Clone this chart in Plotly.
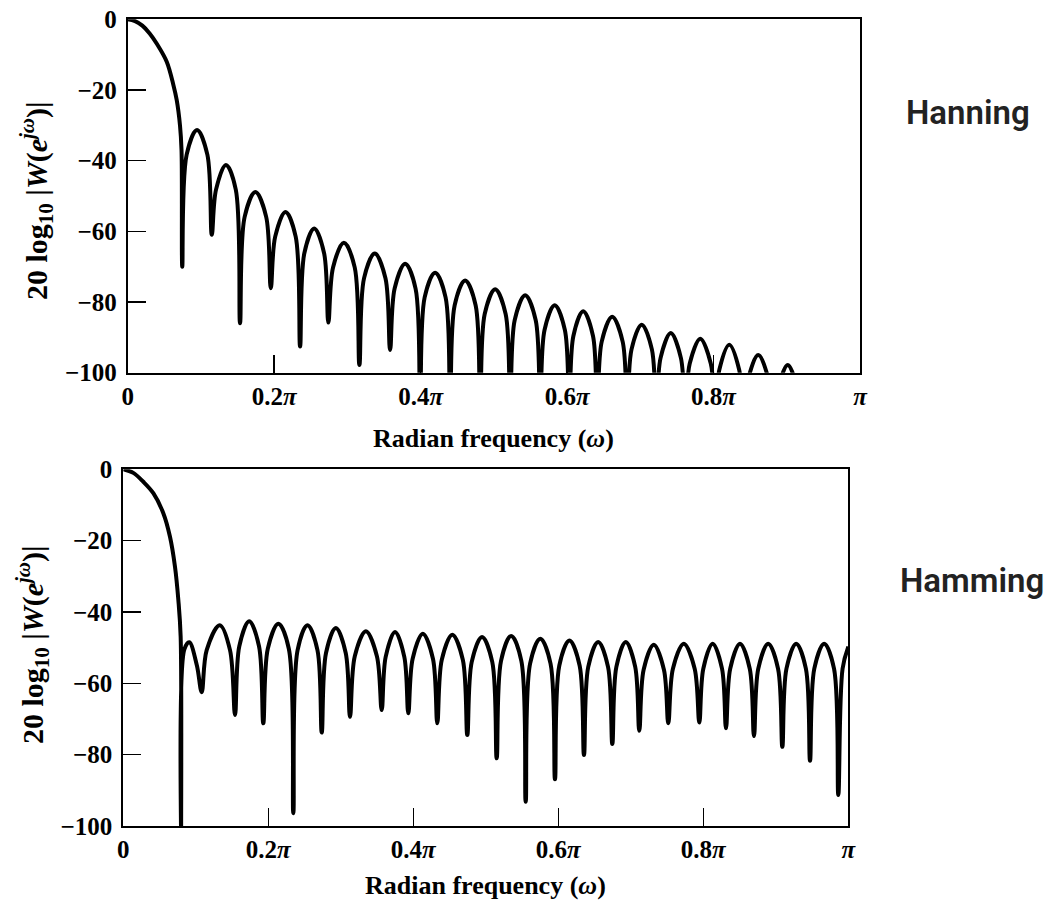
import plotly.graph_objects as go

# ---------------- data (x in units of pi, y in dB) -------------
hann_x = [
    0.0, 0.01, 0.02, 0.03, 0.04, 0.0533, 0.0623, 0.0669, 0.0714, 0.0735,
    0.0745, 0.0805, 0.0947, 0.1088,
    0.1148, 0.1206, 0.1341, 0.1476,
    0.1534, 0.1597, 0.1744, 0.1891,
    0.1954, 0.2014, 0.2154, 0.2294,
    0.2354, 0.2412, 0.2547, 0.2682,
    0.2740, 0.2804, 0.2952, 0.3100,
    0.3164, 0.3227, 0.3374, 0.3520,
    0.3583, 0.3645, 0.3788, 0.3931,
    0.3993, 0.4055, 0.4198, 0.4341,
    0.4403, 0.4465, 0.4608, 0.4751,
    0.4813, 0.4875, 0.5018, 0.5161,
    0.5223, 0.5285, 0.5428, 0.5571,
    0.5633, 0.5692, 0.5831, 0.5970,
    0.6029, 0.6086, 0.6220, 0.6354,
    0.6411, 0.6473, 0.6616, 0.6759,
    0.6821, 0.6880, 0.7019, 0.7158,
    0.7217, 0.7277, 0.7416, 0.7554,
    0.7614, 0.7675, 0.7819, 0.7962,
    0.8023, 0.8080, 0.8215, 0.8349,
    0.8406, 0.8468, 0.8611, 0.8754,
    0.8816, 0.8875, 0.9013, 0.9151,
    0.9210,
]
hann_y = [
    0.0, -0.5, -1.8, -4.0, -7.0, -12.0, -18.5, -22.8, -30.0, -37.0,
    -70.0, -38.3, -31.3, -38.3,
    -61.0, -48.2, -41.2, -48.2,
    -86.0, -55.9, -48.9, -55.9,
    -76.1, -61.5, -54.5, -61.5,
    -92.6, -66.2, -59.2, -66.2,
    -85.8, -70.2, -63.2, -70.2,
    -97.8, -73.3, -66.3, -73.3,
    -93.6, -76.2, -69.2, -76.2,
    -110, -78.7, -71.7, -78.7,
    -110, -80.9, -73.9, -80.9,
    -110, -83.4, -76.4, -83.4,
    -110, -85.1, -78.1, -85.1,
    -110, -87.9, -80.9, -87.9,
    -110, -89.6, -82.6, -89.6,
    -110, -91.2, -84.2, -91.2,
    -110, -93.4, -86.4, -93.4,
    -110, -95.8, -88.8, -95.8,
    -110, -97.4, -90.4, -97.4,
    -110, -99.1, -92.1, -99.1,
    -110, -102.0, -95.0, -102.0,
    -110, -104.8, -97.8, -104.8,
    -110,
]

hamm_x = [
    0.0, 0.0138, 0.0276, 0.0414, 0.0552, 0.0644, 0.0713, 0.0759, 0.0791,
    0.0800, 0.0842, 0.0910, 0.1015,
    0.1081, 0.1150, 0.1330, 0.1472,
    0.1541, 0.1600, 0.1736, 0.1872,
    0.1931, 0.1993, 0.2138, 0.2283,
    0.2345, 0.2404, 0.2541, 0.2678,
    0.2737, 0.2796, 0.2932, 0.3068,
    0.3127, 0.3193, 0.3346, 0.3498,
    0.3564, 0.3619, 0.3748, 0.3876,
    0.3931, 0.3991, 0.4131, 0.4271,
    0.4331, 0.4393, 0.4538, 0.4683,
    0.4745, 0.4806, 0.4948, 0.5089,
    0.5150, 0.5210, 0.5350, 0.5490,
    0.5550, 0.5611, 0.5752, 0.5893,
    0.5954, 0.6014, 0.6154, 0.6294,
    0.6354, 0.6413, 0.6550, 0.6686,
    0.6745, 0.6801, 0.6931, 0.7061,
    0.7117, 0.7177, 0.7317, 0.7457,
    0.7517, 0.7581, 0.7731, 0.7881,
    0.7945, 0.8000, 0.8129, 0.8258,
    0.8313, 0.8371, 0.8506, 0.8641,
    0.8699, 0.8758, 0.8895, 0.9031,
    0.9090, 0.9147, 0.9281, 0.9415,
    0.9472, 0.9531, 0.9667, 0.9803,
    0.9862, 0.9921, 1.0,
]
hamm_y = [
    0.0, -1.0, -3.5, -6.7, -12.3, -18.9, -27.3, -36.6, -46.9,
    -110, -50.5, -48.5, -55.0,
    -62.5, -50.7, -43.7, -50.7,
    -68.9, -49.6, -42.6, -49.6,
    -71.2, -50.3, -43.3, -50.3,
    -96.4, -50.7, -43.7, -50.7,
    -73.8, -51.5, -44.5, -51.5,
    -69.4, -52.4, -45.4, -52.4,
    -67.5, -52.6, -45.6, -52.6,
    -68.4, -53.1, -46.1, -53.1,
    -71.2, -53.4, -46.4, -53.4,
    -74.5, -54.0, -47.0, -54.0,
    -81.0, -53.7, -46.7, -53.7,
    -93.2, -54.5, -47.5, -54.5,
    -86.9, -55.0, -48.0, -55.0,
    -80.1, -55.4, -48.4, -55.4,
    -77.0, -55.4, -48.4, -55.4,
    -73.3, -56.2, -49.2, -56.2,
    -71.2, -55.9, -48.9, -55.9,
    -71.0, -55.9, -48.9, -55.9,
    -72.6, -55.9, -48.9, -55.9,
    -74.8, -55.9, -48.9, -55.9,
    -77.8, -55.9, -48.9, -55.9,
    -81.7, -55.9, -48.9, -55.9,
    -91.3, -55.9, -49.7,
]

x_tickvals = [0, 0.2, 0.4, 0.6, 0.8, 1.0]
x_ticktext = ["0", "0.2<i>π</i>", "0.4<i>π</i>", "0.6<i>π</i>", "0.8<i>π</i>", "<i>π</i>"]
y_tickvals = [0, -20, -40, -60, -80, -100]
y_ticktext = ["0", "−20", "−40", "−60", "−80", "−100"]

panel_names = ["Hanning", "Hamming"]
x_title = "Radian frequency (<i>ω</i>)"
y_title = "20 log<sub>10</sub> |<i>W</i>(<i>e<sup>jω</sup></i>)|"

# ---------------- figure -------------
# the page body margin is removed (post_script), so figure pixels = window pixels
W, H = 1054, 907
SERIF = "Liberation Serif, Times New Roman, serif"

fig = go.Figure()
fig.add_trace(go.Scatter(x=hann_x, y=hann_y, mode="lines", xaxis="x", yaxis="y",
                         line=dict(color="black", width=4, shape="spline", smoothing=1.0),
                         showlegend=False, hoverinfo="skip"))
fig.add_trace(go.Scatter(x=hamm_x, y=hamm_y, mode="lines", xaxis="x2", yaxis="y2",
                         line=dict(color="black", width=4, shape="spline", smoothing=1.0),
                         showlegend=False, hoverinfo="skip"))

def px_x(p):
    return p / W

def px_y(p):
    return 1 - p / H

tick_font = dict(family=SERIF, size=25, color="black", weight="bold")
common_x = dict(range=[0, 1], tickvals=x_tickvals, ticktext=x_ticktext,
                showline=True, linecolor="black", linewidth=2, mirror=True,
                ticks="inside", ticklen=18, tickwidth=1.5, tickcolor="black",
                showgrid=False, zeroline=False, ticklabelstandoff=0,
                ticklabeloverflow="allow",
                automargin=False, tickfont=tick_font)
common_y = dict(range=[-100, 0], tickvals=y_tickvals, ticktext=y_ticktext,
                showline=True, linecolor="black", linewidth=2, mirror=True,
                ticks="inside", ticklen=18, tickwidth=1.5, tickcolor="black",
                showgrid=False, zeroline=False, ticklabelstandoff=4,
                ticklabeloverflow="allow",
                automargin=False, tickfont=tick_font)

fig.update_layout(
    width=W, height=H, autosize=False,
    margin=dict(l=0, r=0, t=0, b=0, pad=0),
    paper_bgcolor="white", plot_bgcolor="white",
    xaxis=dict(domain=[px_x(127.7), px_x(860)], anchor="y", **common_x),
    yaxis=dict(domain=[px_y(372.7), px_y(19.3)], anchor="x", **common_y),
    xaxis2=dict(domain=[px_x(123.3), px_x(848.3)], anchor="y2", **common_x),
    yaxis2=dict(domain=[px_y(826), px_y(469.3)], anchor="x2", **common_y),
)

title_font = dict(family=SERIF, size=26, color="black", weight="bold")
ytitle_font = dict(family=SERIF, size=30, color="black", weight="bold")
name_font = dict(family="Roboto, Liberation Sans, sans-serif", size=33, color="#222222",
                 weight=600)

ann = []
# x-axis titles
ann.append(dict(text=x_title, x=px_x(493), y=px_y(438), xref="paper", yref="paper",
                showarrow=False, xanchor="center", yanchor="middle", font=title_font))
ann.append(dict(text=x_title, x=px_x(485), y=px_y(885), xref="paper", yref="paper",
                showarrow=False, xanchor="center", yanchor="middle", font=title_font))
# y-axis titles
ann.append(dict(text=y_title, x=px_x(36), y=px_y(201), xref="paper", yref="paper",
                showarrow=False, xanchor="center", yanchor="middle", textangle=-90,
                font=ytitle_font))
ann.append(dict(text=y_title, x=px_x(32), y=px_y(645), xref="paper", yref="paper",
                showarrow=False, xanchor="center", yanchor="middle", textangle=-90,
                font=ytitle_font))
# panel names
ann.append(dict(text=panel_names[0], x=px_x(968), y=px_y(113), xref="paper", yref="paper",
                showarrow=False, xanchor="center", yanchor="middle", font=name_font))
ann.append(dict(text=panel_names[1], x=px_x(972), y=px_y(580), xref="paper", yref="paper",
                showarrow=False, xanchor="center", yanchor="middle", font=name_font))
fig.update_layout(annotations=ann)

fig.write_html(
    "out.html",
    config={"displayModeBar": False, "staticPlot": True},
    post_script="document.body.style.margin='0';document.body.style.padding='0';"
                "document.body.style.overflow='hidden';",
)
